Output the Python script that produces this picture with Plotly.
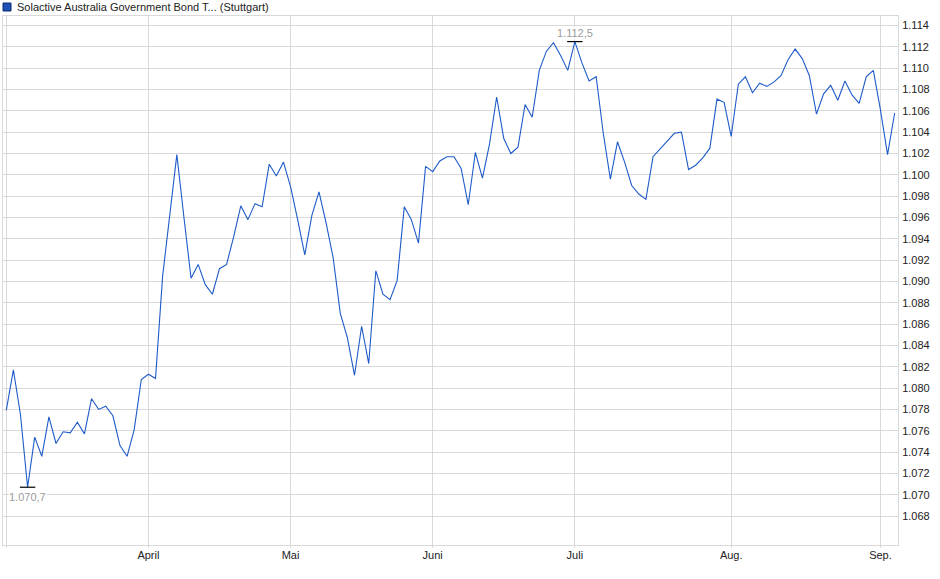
import plotly.graph_objects as go

# closing prices, one per trading day (German notation on the chart: 1.112,5 = 1112.5)
prices = [
    1077.9, 1081.7, 1077.5, 1070.7, 1075.4, 1073.6, 1077.3, 1074.8, 1075.9, 1075.8,
    1076.8, 1075.7, 1079.0, 1078.0, 1078.3, 1077.4, 1074.6, 1073.6, 1076.1, 1080.8,
    1081.3, 1080.9, 1090.5, 1096.1, 1101.9, 1096.0, 1090.3, 1091.6, 1089.7, 1088.8,
    1091.2, 1091.6, 1094.2, 1097.1, 1095.8, 1097.3, 1097.0, 1101.0, 1099.9, 1101.2,
    1098.9, 1095.8, 1092.5, 1096.2, 1098.4, 1095.5, 1092.2, 1087.0, 1084.7, 1081.2,
    1085.8, 1082.3, 1091.0, 1088.8, 1088.3, 1090.1, 1097.0, 1095.8, 1093.6, 1100.8,
    1100.3, 1101.3, 1101.7, 1101.7, 1100.6, 1097.2, 1102.1, 1099.7, 1102.9, 1107.3,
    1103.4, 1102.0, 1102.6, 1106.6, 1105.4, 1109.8, 1111.6, 1112.4, 1111.2, 1109.8,
    1112.5, 1110.5, 1108.8, 1109.2, 1103.9, 1099.6, 1103.1, 1101.2, 1099.0, 1098.2,
    1097.7, 1101.7, 1102.4, 1103.1, 1103.9, 1104.0, 1100.5, 1100.9, 1101.6, 1102.5,
    1107.1, 1106.8, 1103.6, 1108.5, 1109.2, 1107.7, 1108.6, 1108.3, 1108.7, 1109.3,
    1110.8, 1111.8, 1110.9, 1109.3, 1105.7, 1107.6, 1108.4, 1107.0, 1108.8, 1107.5,
    1106.7, 1109.2, 1109.8, 1106.1, 1101.9, 1105.8,
]

# index of the first trading day of each month, and its label
month_idx = [0, 20, 40, 60, 80, 102, 123]
month_labels = ["", "April", "Mai", "Juni", "Juli", "Aug.", "Sep."]

y_ticks = list(range(1068, 1115, 2))

title = "Solactive Australia Government Bond T... (Stuttgart)"

LINE = "#1f5bc8"
GRID = "#d9d9d9"
LABEL = "#9c9c9c"
FONT = "Liberation Sans, Arial, sans-serif"


def de_num(v):
    # 1112.5 -> "1.112,5"
    s = f"{v:,.1f}"
    return s.replace(",", "X").replace(".", ",").replace("X", ".")


x = list(range(len(prices)))
i_max = prices.index(max(prices))
i_min = prices.index(min(prices))

fig = go.Figure()
fig.add_trace(go.Scatter(
    x=x, y=prices, mode="lines",
    line=dict(color=LINE, width=1.1),
    hoverinfo="skip", showlegend=False,
))
# small black bars at the high and the low
fig.add_trace(go.Scatter(
    x=[i_max, i_min], y=[prices[i_max], prices[i_min]], mode="markers",
    marker=dict(symbol="line-ew-open", size=11, color="black",
                line=dict(color="black", width=1.2)),
    hoverinfo="skip", showlegend=False,
))

fig.add_annotation(x=i_max, y=prices[i_max], text=de_num(prices[i_max]),
                   showarrow=False, yshift=9, bgcolor="rgba(255,255,255,0.85)",
                   borderpad=0, font=dict(color=LABEL, size=11, family=FONT))
fig.add_annotation(x=i_min, y=prices[i_min], text=de_num(prices[i_min]),
                   showarrow=False, yshift=-10, bgcolor="rgba(255,255,255,0.85)",
                   borderpad=0, font=dict(color=LABEL, size=11, family=FONT))

# legend-like header
pw, ph = 895.0, 529.0
fig.add_shape(type="rect", xref="paper", yref="paper",
              x0=0, x1=8 / pw, y0=1 + 5 / ph, y1=1 + 13 / ph,
              fillcolor="#1c50b4", line=dict(color="#0d2f6e", width=1))
fig.add_annotation(xref="paper", yref="paper", x=12 / pw, y=1 + 9 / ph,
                   xanchor="left", yanchor="middle", showarrow=False,
                   text=title, font=dict(color="#222222", size=11, family=FONT))

fig.update_layout(
    width=940, height=579,
    margin=dict(l=3, r=42, t=16, b=34),
    paper_bgcolor="white", plot_bgcolor="white",
    separators=",.",
    font=dict(family=FONT, size=11, color="#222222"),
)
fig.update_xaxes(
    range=[-0.46, 125.47],
    tickvals=month_idx, ticktext=month_labels,
    showgrid=True, gridcolor=GRID, gridwidth=1,
    showline=True, linecolor=GRID, mirror=True,
    ticks="outside", ticklen=2, tickcolor=GRID,
    ticklabelstandoff=-2,
    zeroline=False,
)
fig.update_yaxes(
    range=[1065.28, 1114.9], side="right",
    tickvals=y_ticks, tickformat=",d",
    showgrid=True, gridcolor=GRID, gridwidth=1,
    showline=True, linecolor=GRID, mirror=True,
    ticks="", ticklabelstandoff=1,
    zeroline=False,
)

fig.write_html("out.html", config={"displayModeBar": False},
               post_script="document.body.style.margin='0';")
